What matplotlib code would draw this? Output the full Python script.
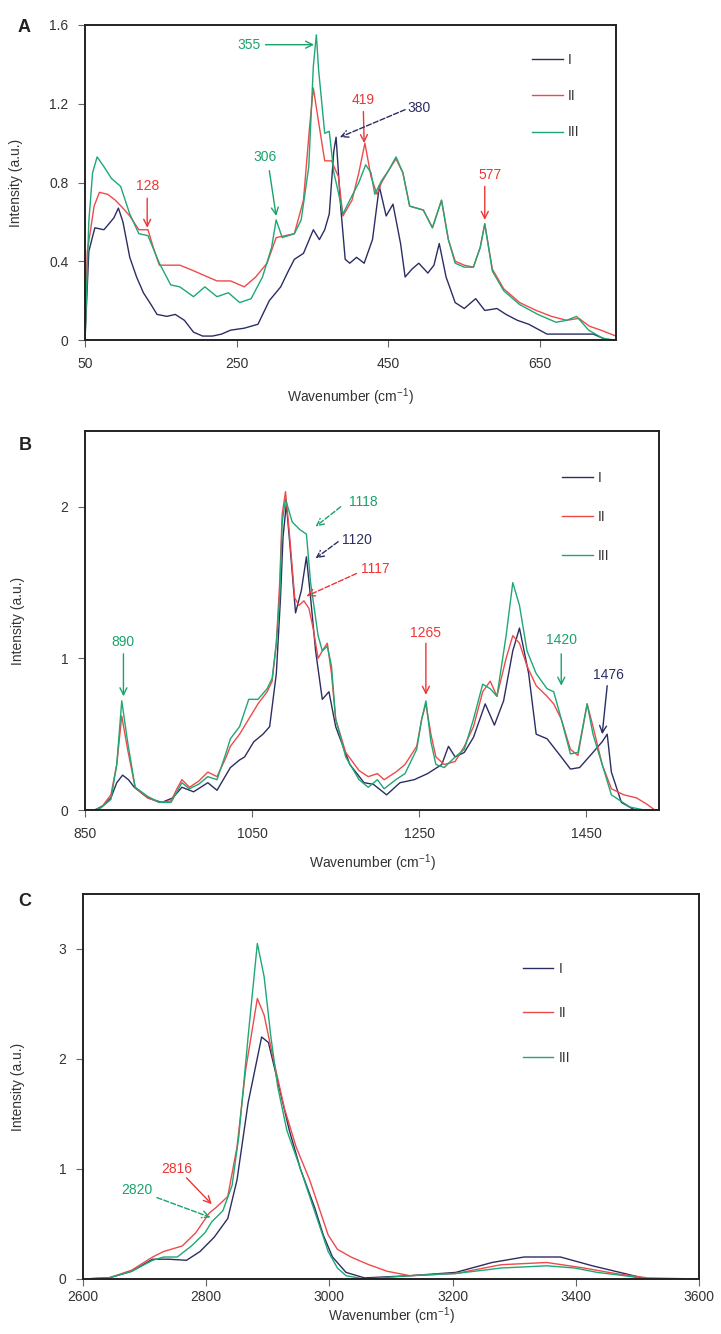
import matplotlib
matplotlib.use('Agg')
import matplotlib.pyplot as plt
import numpy as np

plt.rcParams['font.family'] = ['Liberation Sans', 'DejaVu Sans']
plt.rcParams['mathtext.default'] = 'regular'

# ---------------- data (wavenumber, intensity) ----------------
A_I = np.array([(50,0),(55,0.45),(63,0.57),(75,0.56),(88,0.62),(94,0.67),(100,0.6),(109,0.42),(118,0.32),(127,0.24),
    (137,0.18),(145,0.13),(158,0.12),(169,0.13),(181,0.1),(193,0.04),(205,0.02),(218,0.02),(230,0.03),(242,0.05),
    (260,0.06),(278,0.08),(293,0.2),(308,0.27),(318,0.35),(326,0.41),(338,0.44),(351,0.56),(359,0.51),(366,0.56),
    (372,0.64),(378,0.96),(381,1.03),(387,0.68),(393,0.41),(399,0.39),(408,0.42),(418,0.39),(429,0.51),(438,0.78),
    (447,0.63),(456,0.69),(466,0.49),(472,0.32),(481,0.36),(490,0.39),(502,0.34),(510,0.38),(517,0.49),(526,0.32),
    (538,0.19),(550,0.16),(565,0.21),(577,0.15),(593,0.16),(605,0.13),(620,0.1),(635,0.08),(659,0.03),(690,0.03),
    (720,0.03),(738,0.0),(750,0.0)])
A_II = np.array([(50,0),(53,0.45),(57,0.55),(62,0.68),(69,0.75),(80,0.74),(90,0.71),(100,0.67),(109,0.63),(121,0.56),
    (133,0.56),(140,0.47),(148,0.38),(160,0.38),(175,0.38),(188,0.36),(200,0.34),(212,0.32),(224,0.3),(242,0.3),
    (260,0.27),(275,0.32),(290,0.39),(302,0.52),(314,0.53),(326,0.54),(338,0.71),(346,1.08),(351,1.28),(357,1.13),
    (366,0.91),(375,0.91),(384,0.83),(390,0.63),(402,0.71),(411,0.85),(419,1.0),(427,0.83),(435,0.74),(441,0.8),
    (450,0.86),(460,0.92),(469,0.85),(478,0.68),(487,0.67),(496,0.66),(508,0.57),(520,0.71),(529,0.51),(538,0.4),
    (550,0.38),(562,0.37),(571,0.47),(577,0.59),(587,0.36),(602,0.26),(623,0.19),(645,0.15),(665,0.12),(685,0.1),
    (701,0.11),(715,0.07),(730,0.05),(750,0.02)])
A_III = np.array([(50,0),(55,0.6),(60,0.85),(66,0.93),(75,0.88),(85,0.82),(97,0.78),(109,0.64),(121,0.54),(133,0.53),
    (148,0.39),(163,0.28),(175,0.27),(193,0.22),(208,0.27),(224,0.22),(239,0.24),(254,0.19),(269,0.21),(284,0.32),
    (296,0.47),(302,0.61),(310,0.52),(326,0.54),(335,0.61),(345,0.88),(351,1.39),(355,1.55),(358,1.37),(366,1.05),
    (372,1.06),(378,0.85),(384,0.75),(390,0.64),(399,0.71),(411,0.8),(420,0.89),(427,0.85),(432,0.74),(441,0.81),
    (450,0.86),(460,0.93),(469,0.85),(478,0.68),(487,0.67),(496,0.66),(508,0.57),(520,0.71),(529,0.51),(538,0.39),
    (550,0.37),(562,0.37),(571,0.47),(577,0.59),(587,0.35),(602,0.25),(623,0.18),(647,0.13),(671,0.09),(685,0.1),
    (698,0.12),(714,0.05),(732,0.01),(747,0)])

B_I = np.array([(850,0),(862,0),(872,0.03),(881,0.08),(888,0.18),(895,0.23),(902,0.2),(909,0.15),(925,0.08),(942,0.05),
    (955,0.08),(966,0.15),(980,0.12),(997,0.18),(1008,0.13),(1024,0.28),(1035,0.33),(1041,0.35),(1052,0.45),(1063,0.5),
    (1071,0.55),(1079,0.9),(1084,1.4),(1087,1.8),(1091,2.02),(1096,1.7),(1102,1.3),(1109,1.45),(1115,1.67),(1120,1.4),
    (1126,1.05),(1134,0.73),(1142,0.78),(1150,0.55),(1167,0.3),(1184,0.18),(1195,0.17),(1211,0.1),(1227,0.18),(1244,0.2),
    (1260,0.24),(1277,0.3),(1285,0.42),(1293,0.35),(1304,0.38),(1315,0.48),(1329,0.7),(1340,0.56),(1351,0.72),(1362,1.05),
    (1370,1.2),(1381,0.9),(1390,0.5),(1403,0.47),(1420,0.35),(1431,0.27),(1442,0.28),(1458,0.38),(1469,0.45),(1475,0.5),
    (1480,0.25),(1492,0.05),(1508,0),(1540,0)])
B_II = np.array([(850,0),(862,0),(870,0.02),(881,0.1),(888,0.3),(894,0.62),(901,0.4),(910,0.15),(925,0.08),(939,0.05),
    (953,0.06),(960,0.14),(966,0.2),(975,0.15),(986,0.19),(997,0.25),(1008,0.22),(1019,0.35),(1024,0.42),(1035,0.5),
    (1046,0.6),(1057,0.7),(1068,0.78),(1074,0.85),(1079,1.1),(1083,1.5),(1086,1.95),(1090,2.1),(1095,1.8),(1101,1.4),
    (1106,1.35),(1112,1.38),(1118,1.33),(1123,1.2),(1129,1.0),(1134,1.05),(1140,1.1),(1145,0.9),(1150,0.6),(1162,0.38),
    (1178,0.26),(1189,0.22),(1200,0.24),(1208,0.2),(1222,0.25),(1233,0.3),(1247,0.42),(1253,0.6),(1258,0.7),(1264,0.5),
    (1270,0.35),(1280,0.3),(1293,0.32),(1304,0.42),(1315,0.55),(1326,0.78),(1335,0.85),(1343,0.75),(1354,1.0),(1362,1.15),
    (1370,1.1),(1379,0.95),(1390,0.82),(1403,0.75),(1411,0.7),(1420,0.6),(1431,0.4),(1440,0.36),(1451,0.7),(1458,0.55),
    (1469,0.3),(1480,0.14),(1495,0.1),(1510,0.08),(1522,0.04),(1532,0)])
B_III = np.array([(850,0),(860,0),(868,0.01),(881,0.07),(888,0.3),(894,0.72),(901,0.45),(910,0.15),(925,0.09),(939,0.05),
    (953,0.05),(960,0.12),(966,0.18),(975,0.14),(986,0.17),(997,0.22),(1008,0.2),(1019,0.38),(1024,0.47),(1035,0.55),
    (1046,0.73),(1057,0.73),(1068,0.8),(1074,0.87),(1079,1.1),(1083,1.4),(1086,1.9),(1090,2.05),(1098,1.9),(1107,1.85),
    (1115,1.82),(1120,1.5),(1129,1.15),(1134,1.05),(1140,1.08),(1145,0.95),(1150,0.6),(1162,0.35),(1178,0.2),(1189,0.15),
    (1200,0.2),(1208,0.14),(1222,0.2),(1233,0.24),(1247,0.4),(1253,0.6),(1258,0.72),(1264,0.45),(1270,0.3),(1280,0.28),
    (1293,0.35),(1304,0.4),(1315,0.6),(1326,0.83),(1335,0.8),(1343,0.75),(1354,1.15),(1362,1.5),(1370,1.35),(1379,1.05),
    (1390,0.9),(1403,0.8),(1411,0.78),(1420,0.6),(1431,0.37),(1440,0.38),(1451,0.7),(1458,0.5),(1469,0.3),(1480,0.1),
    (1502,0.02),(1519,0),(1540,0)])

C_I = np.array([(2600,0),(2642,0.01),(2679,0.07),(2713,0.18),(2739,0.18),(2768,0.17),(2790,0.25),(2813,0.38),(2835,0.55),
    (2850,0.9),(2868,1.6),(2890,2.2),(2901,2.15),(2916,1.8),(2935,1.35),(2953,1.0),(2976,0.65),(2990,0.4),(3005,0.2),
    (3027,0.06),(3057,0.01),(3131,0.03),(3205,0.06),(3264,0.15),(3316,0.2),(3375,0.2),(3427,0.12),(3479,0.05),(3516,0),(3600,0)])
C_II = np.array([(2600,0),(2642,0.01),(2679,0.08),(2713,0.2),(2731,0.25),(2761,0.3),(2783,0.42),(2805,0.6),(2816,0.65),
    (2835,0.75),(2850,1.2),(2864,1.9),(2883,2.55),(2894,2.4),(2909,2.0),(2927,1.55),(2946,1.2),(2968,0.9),(2983,0.65),
    (2998,0.4),(3013,0.27),(3035,0.2),(3064,0.13),(3094,0.07),(3131,0.03),(3205,0.05),(3279,0.13),(3353,0.15),(3413,0.1),
    (3464,0.05),(3516,0.01),(3600,0)])
C_III = np.array([(2600,0),(2642,0.01),(2679,0.07),(2713,0.17),(2731,0.2),(2753,0.2),(2776,0.3),(2798,0.42),(2809,0.52),
    (2827,0.62),(2842,0.85),(2853,1.3),(2868,2.2),(2883,3.05),(2894,2.75),(2905,2.2),(2916,1.75),(2931,1.35),(2950,1.05),
    (2968,0.75),(2983,0.5),(2998,0.25),(3013,0.1),(3027,0.03),(3057,0.0),(3131,0.03),(3205,0.05),(3250,0.08),(3279,0.1),
    (3316,0.11),(3353,0.12),(3398,0.1),(3435,0.06),(3479,0.03),(3516,0),(3600,0)])

series_labels = ['I', 'II', 'III']

A_xticks = [50, 250, 450, 650]
A_yticks = [0, 0.4, 0.8, 1.2, 1.6]
A_yticklabels = ['0', '0.4', '0.8', '1.2', '1.6']
B_xticks = [850, 1050, 1250, 1450]
B_yticks = [0, 1, 2]
C_xticks = [2600, 2800, 3000, 3200, 3400, 3600]
C_yticks = [0, 1, 2, 3]

# annotations: text, series index, text (x,y), arrow start (x,y), arrow end (x,y), dashed
A_notes = [('355', 2, (266, 1.50), (288, 1.50), (352, 1.50), False),
           ('306', 2, (287, 0.93), (293, 0.86), (302, 0.63), False),
           ('128', 1, (132, 0.78), (132, 0.72), (132, 0.57), False),
           ('419', 1, (417, 1.22), (417, 1.16), (418, 1.0), False),
           ('380', 0, (490, 1.18), (472, 1.17), (386, 1.03), True),
           ('577', 1, (584, 0.84), (577, 0.78), (577, 0.61), False)]
B_notes = [('890', 2, (896, 1.11), (896, 1.03), (896, 0.75), False),
           ('1118', 2, (1183, 2.03), (1156, 2.0), (1126, 1.87), True),
           ('1120', 0, (1175, 1.78), (1153, 1.77), (1126, 1.66), True),
           ('1117', 1, (1197, 1.59), (1175, 1.56), (1115, 1.41), True),
           ('1265', 1, (1258, 1.17), (1258, 1.10), (1258, 0.76), False),
           ('1420', 2, (1420, 1.12), (1420, 1.03), (1420, 0.82), False),
           ('1476', 0, (1477, 0.89), (1475, 0.82), (1469, 0.50), False)]
C_notes = [('2816', 1, (2753, 1.0), (2768, 0.92), (2809, 0.68), False),
           ('2820', 2, (2687, 0.81), (2720, 0.74), (2807, 0.56), True)]

# ---------------- style ----------------
line_colors = ['#2b2e63', '#ef4a4a', '#1fa774']
text_colors = ['#2b2e63', '#ee3535', '#19a36b']

W, H = 721, 1334
fig = plt.figure(figsize=(W / 100, H / 100), dpi=100)


def make_axes(l, r, t, b):
    return fig.add_axes([l / W, 1 - b / H, (r - l) / W, (b - t) / H])


def style(ax, xlim, ylim, xticks, yticks, yticklabels=None, xpad=7):
    ax.set_xlim(*xlim)
    ax.set_ylim(*ylim)
    ax.set_xticks(xticks)
    ax.set_yticks(yticks)
    if yticklabels is not None:
        ax.set_yticklabels(yticklabels)
    for s in ax.spines.values():
        s.set_linewidth(1.4)
        s.set_color('#222222')
    ax.tick_params(direction='out', length=5, width=0.8, color='#666666',
                   labelsize=10, labelcolor='#333333', pad=7)
    ax.tick_params(axis='x', pad=xpad)


def draw(ax, data, notes, leg_xy, labelspacing, ylab_x, xlab_y):
    handles = []
    for d, c, lab in zip(data, line_colors, series_labels):
        h, = ax.plot(d[:, 0], d[:, 1], color=c, lw=1.0, label=lab)
        handles.append(h)
    for txt, si, tpos, p0, p1, dashed in notes:
        ax.text(tpos[0], tpos[1], txt, color=text_colors[si], fontsize=10,
                ha='center', va='center')
        ax.annotate('', xy=p1, xytext=p0,
                    arrowprops=dict(arrowstyle='->,head_length=0.5,head_width=0.25',
                                    color=text_colors[si], lw=1.0,
                                    linestyle='--' if dashed else '-',
                                    shrinkA=0, shrinkB=0))
    leg = ax.legend(handles=handles, loc='upper left', bbox_to_anchor=leg_xy,
                    frameon=False, borderpad=0, borderaxespad=0, handlelength=2.2,
                    handletextpad=0.4, labelspacing=labelspacing, fontsize=10)
    for t in leg.get_texts():
        t.set_color('#333333')
    ax.set_ylabel('Intensity (a.u.)', fontsize=10, color='#333333')
    ax.yaxis.set_label_coords(ylab_x, 0.5)
    ax.set_xlabel('Wavenumber (cm$^{-1}$)', fontsize=10, color='#333333')
    ax.xaxis.set_label_coords(0.5, xlab_y)


# Panel A
axA = make_axes(85, 616, 25, 340)
style(axA, (50, 750), (0, 1.6), A_xticks, A_yticks, A_yticklabels)
draw(axA, [A_I, A_II, A_III], A_notes, (0.842, 0.911), 1.6, -0.117, -0.146)

# Panel B
axB = make_axes(85, 659, 431, 810)
style(axB, (850, 1537), (0, 2.5), B_xticks, B_yticks)
draw(axB, [B_I, B_II, B_III], B_notes, (0.831, 0.894), 1.8, -0.105, -0.113)

# Panel C
axC = make_axes(83, 699, 894, 1279)
style(axC, (2600, 3600), (0, 3.5), C_xticks, C_yticks, xpad=3)
draw(axC, [C_I, C_II, C_III], C_notes, (0.714, 0.824), 2.2, -0.094, -0.068)

for lab, x, y in [('A', 24, 28), ('B', 25, 445), ('C', 25, 902)]:
    fig.text(x / W, 1 - y / H, lab, fontsize=13, fontweight='bold',
             ha='center', va='center', color='#222222')

fig.savefig('out.png', dpi=100)
